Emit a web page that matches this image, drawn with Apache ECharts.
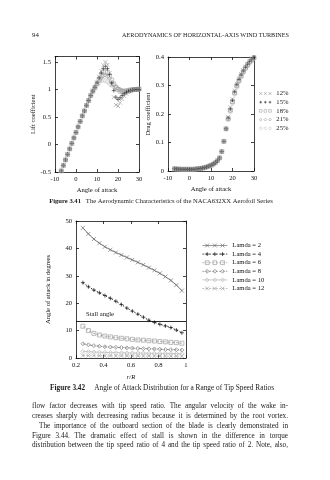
<!DOCTYPE html>
<html><head><meta charset="utf-8">
<script src="https://cdn.jsdelivr.net/npm/echarts@6.0.0/dist/echarts.min.js"></script>
<style>html,body{margin:0;padding:0;background:#fff;}#c{width:330px;height:480px;}</style>
</head><body><div id="c"></div>
<script>
// ---------- data: Figure 3.41 ----------
const alpha = [-7,-6,-5,-4,-3,-2,-1,0,1,2,3,4,5,6,7,8,9,10,11,12,13,14,15,16,17,18,19,20,21,22,23,24,25,26,27,28,29,30];
const liftBase = [-0.48,-0.38,-0.28,-0.18,-0.08,0.02,0.12,0.22,0.32,0.42,0.52,0.61,0.71,0.80,0.89,0.97,1.04];
const cl12 = liftBase.concat([1.13,1.23,1.34,1.44,1.50,1.45,1.30,1.08,0.86,0.72,0.70,0.76,0.83,0.88,0.92,0.95,0.97,0.99,1.00,1.01,1.01]);
const cl15 = liftBase.concat([1.12,1.21,1.30,1.38,1.42,1.38,1.27,1.12,0.98,0.86,0.82,0.85,0.89,0.92,0.95,0.97,0.98,0.99,1.00,1.00,1.00]);
const cl18 = liftBase.concat([1.11,1.19,1.26,1.31,1.33,1.31,1.25,1.17,1.10,1.04,1.00,0.97,0.96,0.96,0.97,0.98,0.99,1.00,1.00,1.00,1.01]);
const cl21 = liftBase.concat([1.10,1.16,1.21,1.25,1.26,1.24,1.20,1.14,1.09,1.05,1.02,1.00,0.98,0.97,0.97,0.98,0.99,1.00,1.00,1.00,1.00]);
const cl25 = liftBase.slice(0,16).concat([1.02,1.08,1.13,1.16,1.17,1.16,1.14,1.11,1.08,1.05,1.03,1.01,0.99,0.98,0.98,0.98,0.99,0.99,1.00,1.00,1.00,1.00]);
const dragBase = [0.008,0.007,0.007,0.006,0.006,0.006,0.006,0.006,0.006,0.006,0.007,0.008,0.009,0.010,0.012,0.014,0.017,0.020,0.024,0.029,0.036,0.046,0.068,0.104,0.148];
const cd12 = dragBase.concat([0.190,0.224,0.252,0.282,0.306,0.324,0.340,0.354,0.366,0.377,0.387,0.395,0.402]);
const cd15 = dragBase.concat([0.186,0.218,0.248,0.278,0.303,0.321,0.337,0.351,0.364,0.375,0.385,0.393,0.400]);
const cd18 = dragBase.concat([0.184,0.214,0.244,0.275,0.300,0.318,0.334,0.349,0.362,0.373,0.383,0.391,0.398]);
const cd21 = dragBase.concat([0.182,0.211,0.241,0.272,0.297,0.315,0.332,0.347,0.360,0.371,0.381,0.389,0.396]);
const cd25 = dragBase.concat([0.180,0.208,0.238,0.269,0.294,0.313,0.330,0.345,0.358,0.369,0.379,0.387,0.394]);
const profileNames = ['12%','15%','18%','21%','25%'];
const liftTicks = [-0.5,0,0.5,1,1.5];
const dragTicks = [0,0.1,0.2,0.3,0.4];
const alphaTicks = [-10,0,10,20,30];

// ---------- data: Figure 3.42 ----------
const rR = [0.25,0.29,0.33,0.37,0.41,0.45,0.49,0.53,0.57,0.61,0.65,0.69,0.73,0.77,0.81,0.85,0.89,0.93,0.97];
const lam2  = [47.5,45.3,43.4,41.9,40.6,39.5,38.5,37.6,36.7,35.8,34.9,34.0,33.0,32.0,30.9,29.7,28.3,26.6,24.6];
const lam4  = [27.5,26.0,24.8,23.8,22.8,21.8,20.7,19.5,18.2,17.1,16.0,14.9,13.8,13.0,12.3,11.7,11.1,10.2,9.2];
const lam6  = [11.6,10.0,9.0,8.4,8.0,7.7,7.4,7.2,7.0,6.8,6.6,6.5,6.3,6.2,6.0,5.9,5.7,5.6,5.4];
const lam8  = [5.2,4.8,4.5,4.3,4.1,4.0,3.9,3.8,3.7,3.6,3.5,3.4,3.35,3.3,3.2,3.1,3.05,3.0,2.9];
const lam10 = [2.4,2.3,2.2,2.1,2.05,2.0,1.95,1.9,1.85,1.85,1.8,1.8,1.75,1.75,1.7,1.7,1.65,1.65,1.6];
const lam12 = [0.9,0.85,0.85,0.8,0.8,0.8,0.75,0.75,0.75,0.75,0.7,0.7,0.7,0.7,0.7,0.65,0.65,0.65,0.65];
const lamNames = ['Lamda = 2','Lamda = 4','Lamda = 6','Lamda = 8','Lamda = 10','Lamda = 12'];
const stallAngle = 13.5;
const rTicks = [0.2,0.4,0.6,0.8,1];
const aoaTicks = [0,10,20,30,40,50];

// ---------- page text ----------
const pageNumber = '94';
const runningHead = 'AERODYNAMICS OF HORIZONTAL-AXIS WIND TURBINES';
const caption1 = ['Figure 3.41', 'The Aerodynamic Characteristics of the NACA632XX Aerofoil Series'];
const caption2 = ['Figure 3.42', 'Angle of Attack Distribution for a Range of Tip Speed Ratios'];
const paragraph = [
  'flow factor decreases with tip speed ratio. The angular velocity of the wake in-',
  'creases sharply with decreasing radius because it is determined by the root vortex.',
  'The importance of the outboard section of the blade is clearly demonstrated in',
  'Figure 3.44. The dramatic effect of stall is shown in the difference in torque',
  'distribution between the tip speed ratio of 4 and the tip speed ratio of 2. Note, also,'
];

// ---------- styling ----------
const FONT = '"Liberation Serif", "DejaVu Serif", serif';
const FS = 6.6;
const SYM = {
  cross: 'path://M0,0L10,10M10,0L0,10',
  plus: 'path://M5,0L5,10M0,5L10,5',
  square: 'path://M0,0L10,0L10,10L0,10Z',
  diamond: 'path://M5,0L10,5L5,10L0,5Z',
  circle: 'path://M0,5A5,5,0,1,1,10,5A5,5,0,1,1,0,5Z'
};
function tri(kind) {
  const out = [];
  for (let i = 0; i < 3; i++) {
    const o = i * 7;
    if (kind === 'cross') out.push(`M${o},0L${o+4},4M${o+4},0L${o},4`);
    if (kind === 'plus') out.push(`M${o+2},0L${o+2},4M${o},2L${o+4},2`);
    if (kind === 'square') out.push(`M${o},0L${o+4},0L${o+4},4L${o},4Z`);
    if (kind === 'diamond') out.push(`M${o+2},0L${o+4},2L${o+2},4L${o},2Z`);
    if (kind === 'circle') out.push(`M${o},2A2,2,0,1,1,${o+4},2A2,2,0,1,1,${o},2Z`);
  }
  return 'path://' + out.join('');
}
function lineIcon(kind, dash) {
  const parts = [];
  if (dash) { for (let x = 0; x < 26; x += dash[0] + dash[1]) parts.push(`M${x},2L${Math.min(26, x + dash[0])},2`); }
  else parts.push('M0,2L26,2');
  [3, 11, 19].forEach(o => {
    if (kind === 'cross') parts.push(`M${o},0L${o+4},4M${o+4},0L${o},4`);
    if (kind === 'plus') parts.push(`M${o+2},0L${o+2},4M${o},2L${o+4},2`);
    if (kind === 'square') parts.push(`M${o},0L${o+4},0L${o+4},4L${o},4Z`);
    if (kind === 'diamond') parts.push(`M${o+2},0L${o+4},2L${o+2},4L${o},2Z`);
  });
  return 'path://' + parts.join('');
}

const profStyle = [
  {c: '#8c8c8c', s: 'cross'}, {c: '#111111', s: 'plus'}, {c: '#a0a0a0', s: 'square'},
  {c: '#8c8c8c', s: 'diamond'}, {c: '#c6c6c6', s: 'circle'}
];
const lamStyle = [
  {c: '#6e6e6e', s: 'cross', type: 'solid', w: 0.9},
  {c: '#111111', s: 'plus', type: [1.5, 1.8], w: 0.9},
  {c: '#9c9c9c', s: 'square', type: [2.5, 1.5], w: 0.8},
  {c: '#7a7a7a', s: 'diamond', type: [3, 1.5, 1, 1.5], w: 0.8},
  {c: '#b8b8b8', s: 'diamond', type: 'solid', w: 0.7},
  {c: '#a0a0a0', s: 'cross', type: [2, 1.5], w: 0.7}
];

const axisLineStyle = {color: '#111', width: 0.8};
function fmtFrom(list) { return v => list.some(t => Math.abs(t - v) < 1e-9) ? String(+v.toFixed(2)) : ''; }
function xAxes(grid, min, max, interval, ticks, name, italic, gap) {
  const base = {gridIndex: grid, type: 'value', min, max, interval,
    axisLine: {show: true, onZero: false, lineStyle: axisLineStyle},
    axisTick: {show: true, inside: true, length: 3, lineStyle: axisLineStyle},
    splitLine: {show: false}};
  return [
    Object.assign({}, base, {position: 'bottom',
      axisLabel: {show: true, color: '#111', fontFamily: FONT, fontSize: FS, margin: 4, formatter: fmtFrom(ticks)},
      name, nameLocation: 'middle', nameGap: gap,
      nameTextStyle: {color: '#111', fontFamily: FONT, fontSize: FS, fontStyle: italic ? 'italic' : 'normal'}}),
    Object.assign({}, base, {position: 'top', axisLabel: {show: false}})
  ];
}
function yAxes(grid, min, max, interval, ticks, name, gap) {
  const base = {gridIndex: grid, type: 'value', min, max, interval,
    axisLine: {show: true, onZero: false, lineStyle: axisLineStyle},
    axisTick: {show: true, inside: true, length: 3, lineStyle: axisLineStyle},
    splitLine: {show: false}};
  return [
    Object.assign({}, base, {position: 'left',
      axisLabel: {show: true, color: '#111', fontFamily: FONT, fontSize: FS, margin: 4, formatter: fmtFrom(ticks)},
      name, nameLocation: 'middle', nameRotate: 90, nameGap: gap,
      nameTextStyle: {color: '#111', fontFamily: FONT, fontSize: FS}}),
    Object.assign({}, base, {position: 'right', axisLabel: {show: false}})
  ];
}

const xAxis = [].concat(
  xAxes(0, -10, 30, 10, alphaTicks, 'Angle of attack', false, 15),
  xAxes(1, -10, 30, 10, alphaTicks, 'Angle of attack', false, 15),
  xAxes(2, 0.2, 1, 0.2, rTicks, 'r/R', true, 16)
);
const yAxis = [].concat(
  yAxes(0, -0.5, 1.6, 0.5, liftTicks, 'Lift coefficient', 16),
  yAxes(1, 0, 0.4, 0.1, dragTicks, 'Drag coefficient', 14),
  yAxes(2, 0, 50, 10, aoaTicks, 'Angle of attack in degrees', 24)
);

const liftSets = [cl12, cl15, cl18, cl21, cl25];
const dragSets = [cd12, cd15, cd18, cd21, cd25];
const lamSets = [lam2, lam4, lam6, lam8, lam10, lam12];
const series = [];
profileNames.forEach((nm, i) => {
  const st = profStyle[i];
  const common = {type: 'scatter', name: nm, symbol: SYM[st.s], symbolSize: 4, silent: true,
    itemStyle: {color: 'rgba(0,0,0,0)', borderColor: st.c, borderWidth: 0.7}, z: 10 - i};
  series.push(Object.assign({}, common, {xAxisIndex: 0, yAxisIndex: 0,
    data: alpha.map((a, k) => [a, liftSets[i][k]])}));
  series.push(Object.assign({}, common, {xAxisIndex: 2, yAxisIndex: 2,
    data: alpha.map((a, k) => [a, dragSets[i][k]])}));
});
lamNames.forEach((nm, i) => {
  const st = lamStyle[i];
  const s = {type: 'line', name: nm, xAxisIndex: 4, yAxisIndex: 4, symbol: SYM[st.s], symbolSize: 4,
    showAllSymbol: true, silent: true, animation: false,
    lineStyle: {color: st.c, width: st.w, type: st.type},
    itemStyle: {color: 'rgba(0,0,0,0)', borderColor: st.c, borderWidth: 0.7},
    data: rR.map((r, k) => [r, lamSets[i][k]])};
  if (i === 0) {
    s.markLine = {silent: true, symbol: 'none', animation: false,
      lineStyle: {color: '#111', width: 0.9, type: 'solid'},
      label: {show: true, position: 'insideStartTop', formatter: 'Stall angle', color: '#111', fontFamily: FONT, fontSize: FS, distance: [10, 3]},
      data: [{yAxis: stallAngle}]};
  }
  series.push(s);
});

const legendText = {color: '#111', fontFamily: FONT, fontSize: FS, lineHeight: 7};
const legends = [
  {orient: 'vertical', left: 259, top: 90, itemWidth: 12, itemHeight: 3, itemGap: 1.7, selectedMode: false,
   textStyle: legendText, padding: 0,
   data: profileNames.map((nm, i) => ({name: nm, icon: tri(profStyle[i].s),
     itemStyle: {color: 'rgba(0,0,0,0)', borderColor: profStyle[i].c, borderWidth: 0.7}}))},
  {orient: 'vertical', left: 202, top: 242, itemWidth: 25, itemHeight: 4, itemGap: 1.6, selectedMode: false,
   textStyle: legendText, padding: 0,
   data: lamNames.map((nm, i) => ({name: nm,
     icon: lineIcon(lamStyle[i].s, lamStyle[i].type === 'solid' ? null : [2, 1.5]),
     itemStyle: {color: 'rgba(0,0,0,0)', borderColor: lamStyle[i].c, borderWidth: 0.7}}))}
];

// ---------- page text as graphic elements ----------
const mctx = document.createElement('canvas').getContext('2d');
const PFS = 7.2;
function justifyLine(line, x0, x1, y) {
  mctx.font = PFS + 'px "Liberation Serif"';
  const words = line.split(' ');
  const widths = words.map(w => mctx.measureText(w).width);
  const total = widths.reduce((a, b) => a + b, 0);
  const gap = (x1 - x0 - total) / (words.length - 1);
  const els = [];
  let x = x0;
  words.forEach((w, i) => {
    els.push({type: 'text', x, y, silent: true,
      style: {text: w, fontFamily: FONT, fontSize: PFS, fill: '#1a1a1a', textAlign: 'left', textVerticalAlign: 'middle'}});
    x += widths[i] + gap;
  });
  return els;
}
const graphics = [
  {type: 'text', x: 32, y: 35, style: {text: pageNumber, fontFamily: FONT, fontSize: 6.8, fill: '#1a1a1a', textVerticalAlign: 'middle'}},
  {type: 'text', x: 289, y: 35, style: {text: runningHead, fontFamily: FONT, fontSize: 6.2, fill: '#1a1a1a', textAlign: 'right', textVerticalAlign: 'middle'}},
  {type: 'text', x: 161, y: 201, style: {text: '{b|' + caption1[0] + '}   ' + caption1[1], fontFamily: FONT, fontSize: FS, fill: '#1a1a1a', textAlign: 'center', textVerticalAlign: 'middle',
    rich: {b: {fontWeight: 'bold', fontFamily: FONT, fontSize: FS}}}},
  {type: 'text', x: 162, y: 388, style: {text: '{b|' + caption2[0] + '}     ' + caption2[1], fontFamily: FONT, fontSize: 7.3, fill: '#1a1a1a', textAlign: 'center', textVerticalAlign: 'middle',
    rich: {b: {fontWeight: 'bold', fontFamily: FONT, fontSize: 7.3}}}}
];
const paraY = [406, 416, 426, 436, 445];
paragraph.forEach((ln, i) => {
  graphics.push(...justifyLine(ln, i === 2 ? 39 : 32, 288, paraY[i]));
});

const chart = echarts.init(document.getElementById('c'), null, {renderer: 'canvas'});
chart.setOption({
  animation: false,
  backgroundColor: '#fff',
  textStyle: {fontFamily: FONT},
  grid: [
    {left: 55, top: 56.5, width: 84, height: 115.5, outerBoundsMode: 'none', containLabel: false},
    {left: 168, top: 57, width: 86, height: 114, outerBoundsMode: 'none', containLabel: false},
    {left: 76, top: 221, width: 110, height: 137, outerBoundsMode: 'none', containLabel: false}
  ],
  xAxis, yAxis, series,
  legend: legends,
  graphic: graphics
});
</script></body></html>
